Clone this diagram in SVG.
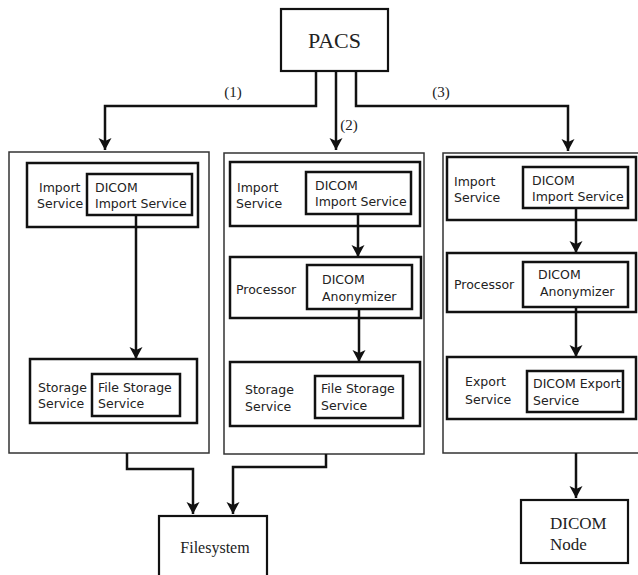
<svg xmlns="http://www.w3.org/2000/svg" width="638" height="575" viewBox="0 0 638 575">
<style>
.bg{fill:#fff}
.panel{fill:none;stroke:#333;stroke-width:1.5}
.box{fill:none;stroke:#111;stroke-width:2.5}
.ext{fill:#fff;stroke:#111;stroke-width:2.2}
.t{font-family:"DejaVu Sans",sans-serif;font-size:12.5px;fill:#222}
.s{font-family:"Liberation Serif",serif;fill:#222}
.c{fill:none;stroke:#111;stroke-width:2.5}
</style>
<defs>
<marker id="ah" markerWidth="14" markerHeight="14" refX="12" refY="7" orient="auto" markerUnits="userSpaceOnUse">
<path d="M0,0.5 L12,7 L0,13.5 L3,7 Z" fill="#111"/>
</marker>
</defs>
<rect class="bg" width="638" height="575"/>

<g id="pacs">
<rect class="ext" x="281" y="9" width="107" height="62"/>
<text class="s" x="334.5" y="48" font-size="22" text-anchor="middle">PACS</text>
</g>

<g id="panel1">
<rect class="panel" x="9" y="152" width="200" height="301"/>
<g id="p1-import">
<rect class="box" x="27" y="163" width="171" height="64"/>
<rect class="box" x="87" y="174" width="105" height="41"/>
<text class="t" x="39" y="192">Import</text>
<text class="t" x="37" y="208">Service</text>
<text class="t" x="95" y="192">DICOM</text>
<text class="t" x="95" y="208">Import Service</text>
</g>
<g id="p1-storage">
<rect class="box" x="30" y="359" width="167" height="64"/>
<rect class="box" x="92" y="374" width="88" height="42"/>
<text class="t" x="38" y="392">Storage</text>
<text class="t" x="38" y="408">Service</text>
<text class="t" x="98" y="392">File Storage</text>
<text class="t" x="98" y="408">Service</text>
</g>
</g>

<g id="panel2">
<rect class="panel" x="224" y="153" width="200" height="301"/>
<g id="p2-import">
<rect class="box" x="230" y="162" width="190" height="64"/>
<rect class="box" x="306" y="172" width="105" height="42"/>
<text class="t" x="237" y="192">Import</text>
<text class="t" x="236" y="208">Service</text>
<text class="t" x="315" y="190">DICOM</text>
<text class="t" x="315" y="206">Import Service</text>
</g>
<g id="p2-processor">
<rect class="box" x="230" y="257" width="191" height="61"/>
<rect class="box" x="307" y="265" width="105" height="44"/>
<text class="t" x="236" y="294">Processor</text>
<text class="t" x="322" y="284">DICOM</text>
<text class="t" x="322" y="301">Anonymizer</text>
</g>
<g id="p2-storage">
<rect class="box" x="230" y="362" width="190" height="64"/>
<rect class="box" x="315" y="376" width="88" height="42"/>
<text class="t" x="245" y="394">Storage</text>
<text class="t" x="245" y="411">Service</text>
<text class="t" x="321" y="393">File Storage</text>
<text class="t" x="321" y="410">Service</text>
</g>
</g>

<g id="panel3">
<rect class="panel" x="443" y="153" width="200" height="300"/>
<g id="p3-import">
<rect class="box" x="447" y="157" width="189" height="63"/>
<rect class="box" x="523" y="167" width="105" height="41"/>
<text class="t" x="454" y="186">Import</text>
<text class="t" x="454" y="202">Service</text>
<text class="t" x="532" y="185">DICOM</text>
<text class="t" x="532" y="201">Import Service</text>
</g>
<g id="p3-processor">
<rect class="box" x="447" y="253" width="189" height="59"/>
<rect class="box" x="523" y="262" width="105" height="45"/>
<text class="t" x="454" y="289">Processor</text>
<text class="t" x="538" y="279">DICOM</text>
<text class="t" x="540" y="296">Anonymizer</text>
</g>
<g id="p3-export">
<rect class="box" x="447" y="357" width="189" height="62"/>
<rect class="box" x="527" y="371" width="96" height="41"/>
<text class="t" x="465" y="386">Export</text>
<text class="t" x="465" y="404">Service</text>
<text class="t" x="533" y="388">DICOM Export</text>
<text class="t" x="533" y="405">Service</text>
</g>
</g>

<g id="filesystem">
<rect class="ext" x="159" y="516" width="108" height="70"/>
<text class="s" x="215" y="553" font-size="16" text-anchor="middle">Filesystem</text>
</g>

<g id="dicomnode">
<rect class="ext" x="521" y="500" width="107" height="63"/>
<text class="s" x="550" y="529" font-size="17">DICOM</text>
<text class="s" x="550" y="550" font-size="17">Node</text>
</g>

<g id="connectors">
<path class="c" d="M316,71 V106 H105 V150" marker-end="url(#ah)"/>
<path class="c" d="M336,71 V150" marker-end="url(#ah)"/>
<path class="c" d="M356,71 V106 H568 V151" marker-end="url(#ah)"/>
<path class="c" d="M136,215 V359" marker-end="url(#ah)"/>
<path class="c" d="M358,214 V257" marker-end="url(#ah)"/>
<path class="c" d="M359,309 V362" marker-end="url(#ah)"/>
<path class="c" d="M576,208 V253" marker-end="url(#ah)"/>
<path class="c" d="M576,307 V357" marker-end="url(#ah)"/>
<path class="c" d="M127,453 V469 H193 V514" marker-end="url(#ah)"/>
<path class="c" d="M326,454 V467 H233 V514" marker-end="url(#ah)"/>
<path class="c" d="M576,453 V498" marker-end="url(#ah)"/>
<text class="s" x="233" y="97" font-size="15" text-anchor="middle">(1)</text>
<text class="s" x="349" y="130" font-size="15" text-anchor="middle">(2)</text>
<text class="s" x="441" y="97" font-size="15" text-anchor="middle">(3)</text>
</g>
</svg>
